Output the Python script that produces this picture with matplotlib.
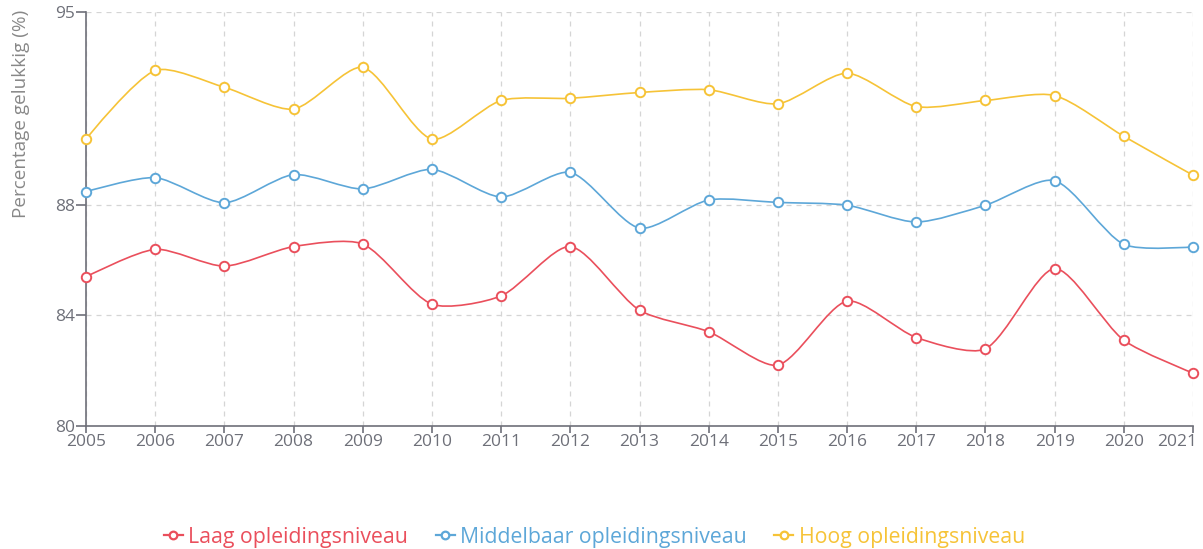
import numpy as np
import matplotlib.pyplot as plt
import matplotlib.transforms as mtransforms
from matplotlib.path import Path
from matplotlib.patches import PathPatch
from matplotlib.lines import Line2D

plt.rcParams['font.family'] = ['Open Sans', 'DejaVu Sans']

years = list(range(2005, 2022))
laag = [85.40, 86.40, 85.79, 86.50, 86.59, 84.41, 84.71, 86.50, 84.19,
        83.41, 82.20, 84.52, 83.20, 82.79, 85.70, 83.10, 81.91]
middel = [88.49, 89.00, 88.09, 89.11, 88.59, 89.30, 88.30, 89.19, 87.17,
          88.19, 88.10, 88.00, 87.39, 88.00, 88.89, 86.58, 86.49]
hoog = [90.40, 92.89, 92.28, 91.49, 93.00, 90.40, 91.80, 91.88, 92.09,
        92.19, 91.68, 92.79, 91.58, 91.80, 91.98, 90.50, 89.09]
yticks = [80, 84, 88, 95]

series = [
    ("Laag opleidingsniveau", laag, '#EA4F5C'),
    ("Middelbaar opleidingsniveau", middel, '#5DA7D8'),
    ("Hoog opleidingsniveau", hoog, '#F6C337'),
]

axis_col = '#6E7079'

fig = plt.figure(figsize=(12.03, 5.49), dpi=100)
ax = fig.add_axes([86/1203, 1-425.7/549, 1107/1203, (425.7-12.3)/549])
ax.set_xlim(2005, 2021)
ax.set_ylim(80, 95)


def smooth_path(xs, ys, smooth=0.25):
    # bezier smoothing through the points, computed in pixel space
    pts = ax.transData.transform(np.column_stack([xs, ys]))
    n = len(pts)
    cp_in = pts.copy()
    cp_out = pts.copy()
    for i in range(1, n - 1):
        v = (pts[i + 1] - pts[i - 1]) * smooth
        d0 = np.hypot(*(pts[i] - pts[i - 1]))
        d1 = np.hypot(*(pts[i + 1] - pts[i]))
        s = d0 + d1
        cp_in[i] = pts[i] - v * d0 / s
        cp_out[i] = pts[i] + v * d1 / s
    verts = [pts[0]]
    codes = [Path.MOVETO]
    for i in range(n - 1):
        verts += [cp_out[i], cp_in[i + 1], pts[i + 1]]
        codes += [Path.CURVE4] * 3
    verts = ax.transData.inverted().transform(np.array(verts))
    return Path(verts, codes)


handles = []
for name, vals, col in series:
    ax.add_patch(PathPatch(smooth_path(years, vals), fill=False,
                           edgecolor=col, lw=1.2, zorder=3))
    ax.plot(years, vals, ls='none', marker='o', ms=6.8, mfc='white',
            mec=col, mew=1.4, zorder=4, clip_on=False)
    handles.append(Line2D([], [], color=col, lw=1.6, marker='o', ms=5.5,
                          mfc='white', mec=col, mew=1.6, label=name))

ax.set_xticks(years)
ax.set_yticks(yticks)
ax.grid(True, color='#D5D5D5', ls=(0, (4, 4)), lw=0.9)
ax.set_axisbelow(True)
for s in ['top', 'right']:
    ax.spines[s].set_visible(False)
for s in ['left', 'bottom']:
    ax.spines[s].set_color(axis_col)
    ax.spines[s].set_linewidth(1.2)
ax.tick_params(axis='x', length=5, width=1.2, color=axis_col, pad=1,
               labelsize=12.5, labelcolor=axis_col)
ax.tick_params(axis='y', length=7, width=1.2, color=axis_col, pad=1,
               labelsize=12.5, labelcolor=axis_col)

# last x label is pulled inside the figure
last = ax.get_xticklabels()[-1]
last.set_horizontalalignment('right')
last.set_transform(last.get_transform() +
                   mtransforms.ScaledTranslation(4/100, 0, fig.dpi_scale_trans))

ax.text(-65/1107, 1.005, "Percentage gelukkig (%)", transform=ax.transAxes,
        rotation=90, ha='center', va='top', fontsize=13.6, color='#888888')

fig.legend(handles=handles, loc='center', bbox_to_anchor=(0.494, 1-537/549),
           ncol=3, frameon=False, fontsize=15.3, labelcolor='linecolor',
           handlelength=0.9, handletextpad=0.25, columnspacing=1.3)

fig.savefig('out.png', dpi=100)
